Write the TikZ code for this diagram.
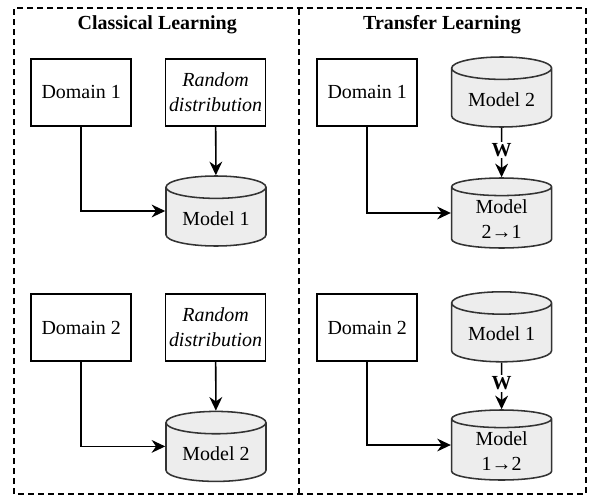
\documentclass[tikz,border=0pt]{standalone}
\usepackage{fontspec}
\setmainfont{Liberation Serif}
\usetikzlibrary{arrows.meta,shapes.geometric}

\begin{document}
\begin{tikzpicture}[font=\fontsize{14.2}{17.8}\selectfont,>={Stealth[length=3.4mm,width=3.2mm]},
  box/.style={draw=black,line width=1.1pt,align=center,minimum width=2.5cm,
              minimum height=1.68cm,inner sep=2pt},
  db/.style={cylinder,shape border rotate=90,aspect=0.32,draw=black!80,line width=1.1pt,
             fill=black!7,align=center,minimum width=2.5cm,minimum height=1.75cm,
             inner sep=1pt,anchor=shape center},
  arr/.style={->,line width=1.1pt},
  wlab/.style={fill=white,inner sep=1pt,font=\fontsize{14.2}{17.8}\selectfont\bfseries},
  frame/.style={line width=1pt,dash pattern=on 4.3pt off 2.8pt},
  ttl/.style={font=\fontsize{14.2}{17.8}\selectfont\bfseries}]
\useasboundingbox (0,0) rectangle (14.725,12.4);
% the two panels
\draw[frame] (0.35,0.05) rectangle (14.65,12.2);
\draw[frame] (7.475,0.05) -- (7.475,12.2);
\node[ttl] (tcl) at (3.93,11.78) {Classical Learning};
\node[ttl] (ttr) at (11.05,11.78) {Transfer Learning};
% classical learning
\node[box] (dom1) at (2.03,10.09) {Domain 1};
\node[box] (rnd1) at (5.39,10.09) {\itshape Random\\\itshape distribution};
\node[db]  (mdl1) at (5.40,7.125) {Model 1};
\node[box] (dom2) at (2.03,4.21)  {Domain 2};
\node[box] (rnd2) at (5.39,4.21)  {\itshape Random\\\itshape distribution};
\node[db]  (mdl2) at (5.40,1.24)  {Model 2};
\draw[arr] (dom1.south) |- (mdl1.west |- mdl1.shape center);
\draw[arr] (rnd1) -- (mdl1);
\draw[arr] (dom2.south) |- (mdl2.west |- mdl2.shape center);
\draw[arr] (rnd2) -- (mdl2);
% transfer learning
\node[box] (dom3) at (9.18,10.09) {Domain 1};
\node[db]  (src2) at (12.54,10.10) {Model 2};
\node[db]  (tgt1) at (12.54,7.075) {Model\\2→1};
\node[box] (dom4) at (9.18,4.21)  {Domain 2};
\node[db]  (src1) at (12.54,4.23)  {Model 1};
\node[db]  (tgt2) at (12.54,1.275) {Model\\1→2};
\draw[arr] (dom3.south) |- (tgt1.west |- tgt1.shape center);
\draw[arr] (src2) -- node[pos=0.45,wlab]{W} (tgt1);
\draw[arr] (dom4.south) |- (tgt2.west |- tgt2.shape center);
\draw[arr] (src1) -- node[pos=0.45,wlab]{W} (tgt2);
\end{tikzpicture}
\end{document}
